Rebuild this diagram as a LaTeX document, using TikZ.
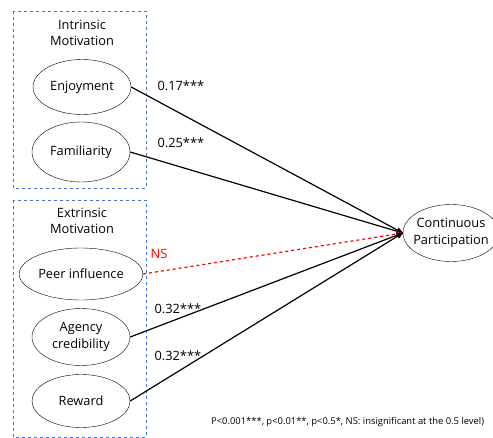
\documentclass[tikz,border=0pt]{standalone}
\usepackage{fontspec}
\setmainfont{Open Sans}
\usetikzlibrary{arrows, shapes.geometric, positioning}
\definecolor{colorGroup}{RGB}{70,114,212}
\colorlet{colorPath}{black}
\colorlet{colorNS}{red}

\begin{document}
\begin{tikzpicture}[x=1pt, y=-1pt, >=stealth', line width=1.2pt, every node/.style={font=\fontsize{12.8}{16.5}\selectfont},
  construct/.style={ellipse, draw, thin, minimum width=98pt, minimum height=55pt, align=center, inner sep=1pt},
  group/.style={draw=colorGroup, dashed, thin},
  coef/.style={anchor=west, inner sep=0pt}]
\useasboundingbox (0,0) rectangle (493,438);
% groups
\draw[group] (13,11) rectangle (146,188);
\draw[group] (13,200) rectangle (146,437);
\node[align=center] (intr) at (82,33) {Intrinsic\\Motivation};
\node[align=center] (extr) at (82,221) {Extrinsic\\Motivation};
% constructs
\node[construct] (enj) at (82,87) {Enjoyment};
\node[construct, minimum height=60pt] (fam) at (81,152) {Familiarity};
\node[construct, minimum height=52pt] (peer) at (81,274) {Peer influence};
\node[construct, minimum height=57pt] (agen) at (81,337) {Agency\\credibility};
\node[construct, minimum height=53pt] (rew) at (81,401) {Reward};
\node[construct, inner xsep=-6pt, minimum width=96pt, minimum height=57pt] (cp) at (451,233) {Continuous\\Participation};
% paths
\draw[->, colorPath] (enj.east) -- (cp.west);
\draw[->, colorPath] (fam.east) -- (cp.west);
\draw[->, colorNS, dashed] (peer.east) -- (cp.west);
\draw[->, colorPath] (agen.east) -- (cp.west);
\draw[->, colorPath] (rew.east) -- (cp.west);
\node[coef] (c1) at (157,86) {0.17***};
\node[coef] (c2) at (157,143) {0.25***};
\node[coef, text=colorNS] (c3) at (150,254) {NS};
\node[coef] (c4) at (154,309) {0.32***};
\node[coef] (c5) at (154,356) {0.32***};
\node[anchor=east, font=\fontsize{9.4}{11}\selectfont] (note) at (488,422) {P<0.001***, p<0.01**, p<0.5*, NS: insignificant at the 0.5 level)};
\end{tikzpicture}
\end{document}
